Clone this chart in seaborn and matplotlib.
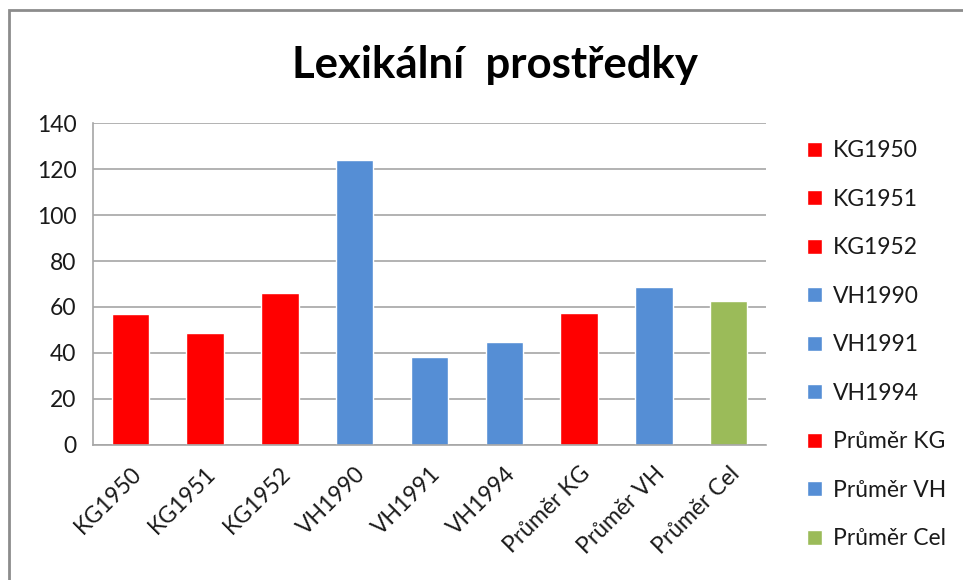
import numpy as np
import pandas as pd
import seaborn as sns
import matplotlib.pyplot as plt
from matplotlib.patches import Rectangle
from matplotlib.ticker import FixedLocator

categories = ['KG1950', 'KG1951', 'KG1952', 'VH1990', 'VH1991', 'VH1994',
              'Průměr KG', 'Průměr VH', 'Průměr Cel']
values = [57, 48.6, 66, 124, 38.4, 44.7, 57.2, 68.6, 62.4]
groups = ['KG', 'KG', 'KG', 'VH', 'VH', 'VH', 'KG', 'VH', 'Cel']
group_colors = {'KG': '#FF0000', 'VH': '#558ED5', 'Cel': '#9BBB59'}
y_ticks = [0, 20, 40, 60, 80, 100, 120, 140]

df = pd.DataFrame({'label': categories, 'value': values, 'group': groups})
palette = {c: group_colors[g] for c, g in zip(categories, groups)}

sns.set_style('white')
plt.rcParams['font.family'] = ['Lato', 'DejaVu Sans']

fig = plt.figure(figsize=(9.63, 5.80), dpi=100)
ax = fig.add_axes([0.0966, 0.2328, 0.6988, 0.5551])

sns.barplot(data=df, x='label', y='value', hue='label', palette=palette,
            width=0.5, dodge=False, legend=True, ax=ax, saturation=1)

grid_c = '#A6A6A6'
ax.set_ylim(0, 140)
ax.set_xlim(-0.5, len(categories) - 0.5)
ax.set_yticks(y_ticks)
ax.yaxis.grid(True, color=grid_c, linewidth=1.2)
ax.set_axisbelow(True)
ax.set_xlabel('')
ax.set_ylabel('')
for s in ['top', 'right']:
    ax.spines[s].set_visible(False)
for s in ['left', 'bottom']:
    ax.spines[s].set_color(grid_c)
    ax.spines[s].set_linewidth(1.2)

ax.tick_params(axis='y', length=7, color=grid_c, width=1.2, labelsize=16.5, pad=5,
               labelcolor='#1A1A1A')
ax.xaxis.set_minor_locator(FixedLocator(np.arange(-0.5, len(categories), 1.0)))
ax.tick_params(axis='x', which='minor', length=7, color=grid_c, width=1.2)
ax.tick_params(axis='x', which='major', length=0, labelsize=16.5, pad=13,
               labelcolor='#1A1A1A')
plt.setp(ax.get_xticklabels(), rotation=45, ha='right', rotation_mode='anchor')

handles, labels = ax.get_legend_handles_labels()
ax.get_legend().remove()
fig.legend(handles, labels, loc='upper left', bbox_to_anchor=(0.829, 0.774),
           frameon=False, fontsize=16.5, handlelength=0.65, handleheight=0.65,
           handletextpad=0.45, labelspacing=1.20, borderaxespad=0,
           labelcolor='#1A1A1A')

fig.text(0.514, 0.888, 'Lexikální  prostředky', ha='center', va='center',
         fontsize=31.5, fontweight='bold', color='black')

fig.patches.append(Rectangle((9 / 963, -0.1), 1.2, 1 - 10 / 580 + 0.1,
                             transform=fig.transFigure, fill=False,
                             edgecolor='#8C8C8C', linewidth=2))

fig.savefig('out.png', dpi=100)
